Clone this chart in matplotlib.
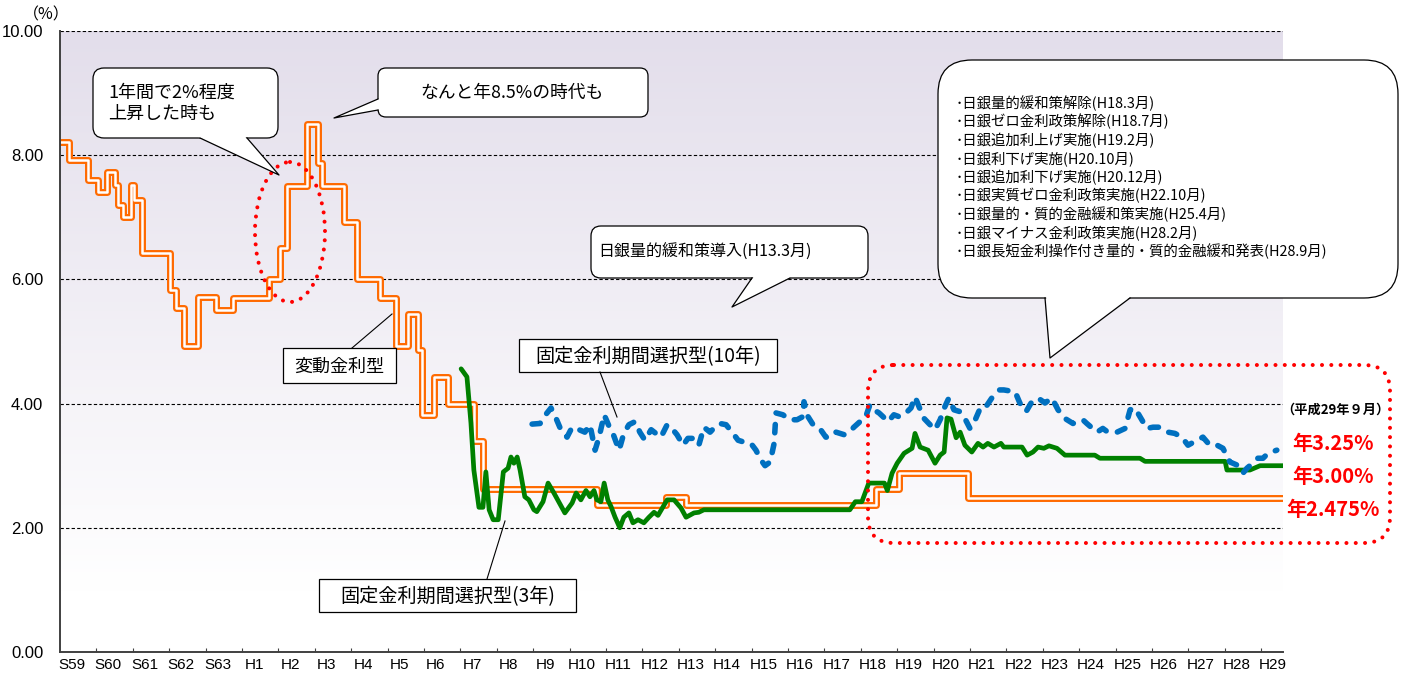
import numpy as np
import matplotlib.pyplot as plt
from matplotlib.patches import FancyBboxPatch, Polygon, Ellipse, Rectangle

plt.rcParams['font.family'] = ['Noto Sans CJK JP', 'DejaVu Sans']
NUM_FONT = ['Liberation Sans Narrow', 'Liberation Sans', 'DejaVu Sans']

# years counted from the start of S59 (1984)
x_labels = ['S59', 'S60', 'S61', 'S62', 'S63'] + ['H%d' % i for i in range(1, 30)]

# 変動金利型 (step changes: start, rate)
var_t = [0.00, 0.26, 0.77, 1.04, 1.29, 1.51, 1.60, 1.73, 1.95, 2.03, 2.25, 3.02, 3.19, 3.41,
         3.80, 4.29, 4.76, 5.73, 6.04, 6.23, 6.78, 7.08, 7.19, 7.80, 8.15, 8.79, 9.23, 9.56,
         9.83, 9.95, 10.27, 10.66, 11.37, 11.61, 14.75, 16.65, 17.20, 22.42, 23.05, 24.95, 33.60]
var_v = [8.22, 7.92, 7.60, 7.41, 7.73, 7.52, 7.20, 7.00, 7.52, 7.28, 6.42, 5.83, 5.54, 4.92,
         5.72, 5.51, 5.70, 6.00, 6.50, 7.50, 8.50, 7.87, 7.50, 6.92, 6.00, 5.70, 4.92, 5.44,
         4.86, 3.82, 4.43, 4.00, 3.40, 2.625, 2.375, 2.50, 2.375, 2.625, 2.875, 2.475, 2.475]

# 固定金利期間選択型(3年)
fix3_t = [11.02, 11.18, 11.29, 11.37, 11.51, 11.62, 11.70, 11.79, 11.90, 12.04, 12.18, 12.31,
          12.39, 12.47, 12.56, 12.64, 12.77, 12.88, 13.02, 13.10, 13.27, 13.41, 13.57, 13.87,
          14.07, 14.18, 14.31, 14.45, 14.56, 14.67, 14.75, 14.86, 14.95, 15.05, 15.14, 15.25,
          15.38, 15.49, 15.63, 15.74, 15.88, 16.04, 16.18, 16.32, 16.43, 16.57, 16.68, 16.87,
          17.06, 17.20, 17.42, 17.55, 17.69, 21.70, 21.85, 22.03, 22.22, 22.65, 22.73, 22.86,
          23.00, 23.19, 23.41, 23.49, 23.63, 23.85, 24.04, 24.18, 24.29, 24.37, 24.48, 24.62,
          24.73, 24.86, 25.05, 25.22, 25.36, 25.49, 25.66, 25.85, 25.93, 26.43, 26.57, 26.73,
          26.87, 27.03, 27.17, 27.39, 27.61, 28.43, 28.57, 29.67, 29.81, 32.01, 32.06, 32.69,
          32.97, 33.60]
fix3_v = [4.56, 4.43, 3.69, 2.93, 2.33, 2.33, 2.90, 2.29, 2.13, 2.13, 2.90, 2.96,
          3.14, 3.04, 3.14, 2.93, 2.50, 2.45, 2.29, 2.26, 2.42, 2.72, 2.56, 2.24,
          2.40, 2.56, 2.45, 2.60, 2.50, 2.60, 2.45, 2.42, 2.72, 2.45, 2.34, 2.17,
          2.00, 2.17, 2.24, 2.08, 2.13, 2.08, 2.17, 2.25, 2.20, 2.34, 2.45, 2.45,
          2.32, 2.17, 2.24, 2.25, 2.29, 2.29, 2.42, 2.42, 2.72, 2.72, 2.60, 2.88,
          3.04, 3.20, 3.28, 3.52, 3.30, 3.25, 3.04, 3.17, 3.22, 3.77, 3.75, 3.45,
          3.54, 3.33, 3.22, 3.36, 3.30, 3.36, 3.30, 3.36, 3.30, 3.30, 3.17, 3.22,
          3.30, 3.28, 3.32, 3.28, 3.17, 3.17, 3.12, 3.12, 3.07, 3.07, 2.93, 2.93,
          3.00, 3.00]

# 固定金利期間選択型(10年)
fix10_t = [12.97, 13.19, 13.30, 13.49, 13.63, 13.76, 13.93, 14.07, 14.26, 14.42, 14.56, 14.70,
           14.81, 14.95, 15.11, 15.19, 15.36, 15.49, 15.63, 15.80, 15.93, 16.07, 16.24, 16.37,
           16.51, 16.68, 16.81, 16.95, 17.12, 17.25, 17.42, 17.55, 17.69, 17.86, 17.99, 18.13,
           18.30, 18.49, 18.63, 18.79, 18.98, 19.12, 19.26, 19.37, 19.51, 19.62, 19.67, 19.86,
           20.05, 20.25, 20.41, 20.44, 20.55, 20.69, 20.85, 21.04, 21.18, 21.32, 21.54, 21.68,
           21.81, 21.98, 22.12, 22.25, 22.36, 22.50, 22.61, 22.75, 22.91, 23.05, 23.19, 23.38,
           23.49, 23.60, 23.74, 23.87, 24.04, 24.18, 24.31, 24.42, 24.56, 24.73, 24.86, 25.00,
           25.16, 25.30, 25.44, 25.60, 25.80, 25.93, 26.24, 26.37, 26.54, 26.68, 26.87, 27.06,
           27.25, 27.42, 27.61, 27.83, 28.10, 28.21, 28.49, 28.65, 28.79, 29.04, 29.26, 29.40,
           29.53, 29.67, 29.86, 30.03, 30.22, 30.44, 30.63, 30.82, 30.99, 31.24, 31.40, 31.59,
           31.79, 31.95, 32.14, 32.34, 32.50, 32.61, 32.77, 32.91, 33.05, 33.19, 33.43]
fix10_v = [3.67, 3.68, 3.79, 3.93, 3.76, 3.58, 3.46, 3.62, 3.58, 3.54, 3.66, 3.25,
           3.46, 3.82, 3.60, 3.52, 3.25, 3.52, 3.66, 3.71, 3.54, 3.41, 3.58, 3.52,
           3.46, 3.66, 3.60, 3.50, 3.33, 3.44, 3.44, 3.33, 3.62, 3.54, 3.62, 3.68,
           3.66, 3.52, 3.41, 3.38, 3.36, 3.25, 3.09, 3.00, 3.06, 3.36, 3.85, 3.82,
           3.74, 3.74, 3.79, 4.03, 3.79, 3.66, 3.62, 3.46, 3.46, 3.54, 3.50, 3.54,
           3.62, 3.71, 3.76, 3.98, 3.90, 3.85, 3.79, 3.71, 3.82, 3.79, 3.82, 3.93,
           4.11, 3.95, 3.76, 3.68, 3.58, 3.74, 3.95, 4.09, 3.90, 3.87, 3.76, 3.60,
           3.76, 3.95, 3.95, 4.09, 4.22, 4.22, 4.19, 4.01, 3.87, 4.01, 4.09, 4.01,
           4.09, 3.90, 3.76, 3.68, 3.74, 3.68, 3.54, 3.60, 3.54, 3.54, 3.60, 3.90,
           3.93, 3.79, 3.60, 3.62, 3.62, 3.54, 3.52, 3.46, 3.33, 3.41, 3.46, 3.33,
           3.33, 3.28, 3.06, 3.01, 2.88, 2.96, 3.04, 3.12, 3.12, 3.20, 3.25]

events = ['日銀量的緩和策解除(H18.3月)', '日銀ゼロ金利政策解除(H18.7月)', '日銀追加利上げ実施(H19.2月)',
          '日銀利下げ実施(H20.10月)', '日銀追加利下げ実施(H20.12月)', '日銀実質ゼロ金利政策実施(H22.10月)',
          '日銀量的・質的金融緩和策実施(H25.4月)', '日銀マイナス金利政策実施(H28.2月)',
          '日銀長短金利操作付き量的・質的金融緩和発表(H28.9月)']
latest = ['年3.25%', '年3.00%', '年2.475%']

W, H = 1409, 675
fig = plt.figure(figsize=(W / 100, H / 100), dpi=100)
ax = fig.add_axes([60 / W, 23 / H, 1223 / W, 621 / H])
xmax = 33.6
ax.set_xlim(0, xmax)
ax.set_ylim(0, 10)

# background gradient (lavender at top -> white near bottom)
yy = np.linspace(10, 0, 300)
f = np.clip((yy - 1.0) / 9.0, 0, 1)[:, None]
top = np.array([227, 222, 235]) / 255
grad = (1 - f) * np.ones(3) + f * top
ax.imshow(grad[:, None, :], extent=[0, xmax, 0, 10], aspect='auto', zorder=0)

for y in range(2, 11, 2):
    ax.axhline(y, color='black', lw=0.8, ls=(0, (3, 2)), zorder=1)

# variable rate: orange double line
ax.plot(var_t, var_v, drawstyle='steps-post', color='#FF6A00', lw=5.0,
        solid_joinstyle='round', solid_capstyle='round', zorder=3)
ax.plot(var_t, var_v, drawstyle='steps-post', color='white', lw=1.8,
        solid_joinstyle='round', solid_capstyle='round', zorder=3)
ax.plot(fix3_t, fix3_v, color='#008000', lw=3.4, solid_joinstyle='round',
        solid_capstyle='round', zorder=4)
ax.plot(fix10_t, fix10_v, color='#0070C0', lw=4.0, ls=(0, (1.5, 2.1)),
        dash_capstyle='round', zorder=4)

for s in ['top', 'right']:
    ax.spines[s].set_visible(False)
for s in ['left', 'bottom']:
    ax.spines[s].set_color('#404040')
    ax.spines[s].set_linewidth(1.4)
    ax.spines[s].set_zorder(5)

ax.set_xticks(np.arange(1, 34))
ax.set_xticklabels([])
ax.tick_params(axis='x', which='major', direction='in', length=3, color='#404040')
ax.set_xticks(np.arange(34) + 0.33, x_labels, minor=True)
ax.tick_params(axis='x', which='minor', length=0, pad=4)
for lab in ax.get_xticklabels(minor=True):
    lab.set_family(NUM_FONT)
    lab.set_fontsize(11)
ax.set_yticks(range(0, 11, 2), ['%.2f' % v for v in range(0, 11, 2)])
ax.tick_params(axis='y', length=0, pad=12)
for lab in ax.get_yticklabels():
    lab.set_family(NUM_FONT)
    lab.set_fontsize(12)

# decorations in pixel coordinates
deco = fig.add_axes([0, 0, 1, 1], zorder=10)
deco.set_xlim(0, W)
deco.set_ylim(H, 0)
deco.axis('off')
deco.patch.set_alpha(0)


def callout(x0, y0, x1, y1, b1, apex, b2, r=10):
    box = FancyBboxPatch((x0, y0), x1 - x0, y1 - y0,
                         boxstyle='round,pad=0,rounding_size=%d' % r,
                         fc='white', ec='black', lw=0.9)
    deco.add_patch(box)
    b1 = np.array(b1, float)
    b2 = np.array(b2, float)
    apex = np.array(apex, float)
    mid = (b1 + b2) / 2
    n = (apex - mid) / np.linalg.norm(apex - mid)
    fill = Polygon([b1 - 2 * n, apex, b2 - 2 * n], closed=True, fc='white', ec='none')
    deco.add_patch(fill)
    deco.plot([b1[0], apex[0], b2[0]], [b1[1], apex[1], b2[1]], color='black', lw=0.9)


def label_box(x0, y0, x1, y1, text, leader, size=13):
    deco.add_patch(Rectangle((x0, y0), x1 - x0, y1 - y0, fc='white', ec='black', lw=0.9))
    deco.text((x0 + x1) / 2, (y0 + y1) / 2 + 1, text, ha='center', va='center', fontsize=size)
    deco.plot(leader[0], leader[1], color='black', lw=0.8)


callout(93, 68, 278, 138, (200, 138), (279, 175), (247, 138), r=11)
deco.text(108, 93, '1年間で2%程度', ha='left', va='center', fontsize=13)
deco.text(108, 114, '上昇した時も', ha='left', va='center', fontsize=13)

callout(378, 68, 648, 117, (378, 99), (334, 118), (378, 110), r=8)
deco.text(512, 93, 'なんと年8.5%の時代も', ha='center', va='center', fontsize=12.8)

callout(591, 226, 868, 278, (752, 278), (732, 307), (790, 278), r=10)
deco.text(598, 252, '日銀量的緩和策導入(H13.3月)', ha='left', va='center', fontsize=11.5)

callout(938, 60, 1398, 298, (1045, 298), (1050, 358), (1130, 298), r=34)
for i, ev in enumerate(events):
    deco.text(956, 103 + i * 18.6, '･' + ev, ha='left', va='center', fontsize=10.4)

label_box(283, 348, 396, 383, '変動金利型', ([352, 392], [348, 314]))
label_box(519, 339, 777, 372, '固定金利期間選択型(10年)', ([600, 617], [372, 417]), size=13.8)
label_box(319, 579, 576, 612, '固定金利期間選択型(3年)', ([487, 505], [579, 521]), size=13.8)

deco.add_patch(Ellipse((290, 232), 70, 140, fill=False, ec='red', lw=2.9,
                       ls=(0, (0.01, 2.3)), capstyle='round'))
deco.add_patch(FancyBboxPatch((868, 365), 522, 178, boxstyle='round,pad=0,rounding_size=26',
                              fill=False, ec='red', lw=2.9, ls=(0, (0.01, 2.3)), capstyle='round'))

deco.text(46, 15, '（%）', ha='center', va='center', fontsize=11.5)
deco.text(1335, 410, '（平成29年９月）', ha='center', va='center', fontsize=9.5, fontweight='bold')
for i, txt in enumerate(latest):
    deco.text(1333, 444 + i * 32.5, txt, ha='center', va='center', fontsize=14.5,
              fontweight='bold', color='#FF0000')

fig.savefig('out.png', dpi=100)
